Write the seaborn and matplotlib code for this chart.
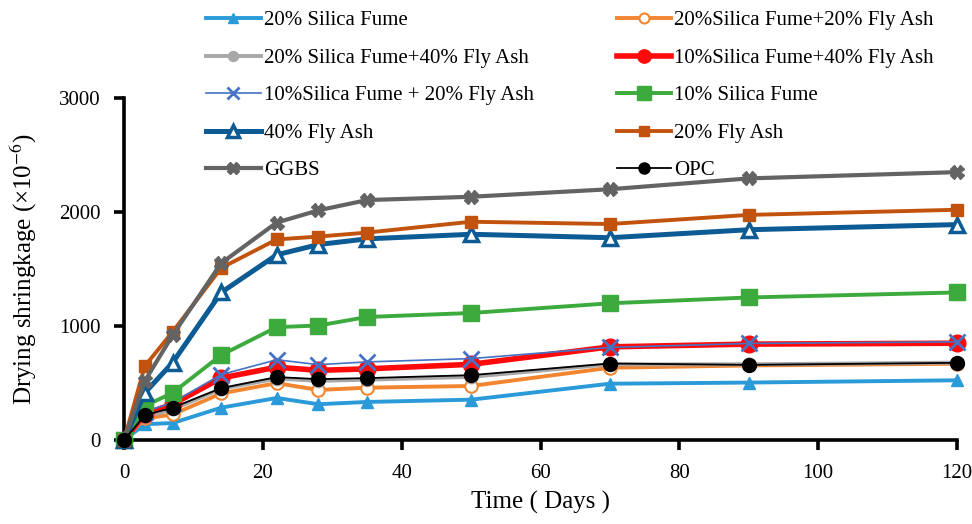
import pandas as pd
import seaborn as sns
import matplotlib.pyplot as plt

# curing age (days) and drying shrinkage readings (x10^-6)
days = [0, 3, 7, 14, 22, 28, 35, 50, 70, 90, 120]

sf20 = [0, 140, 150, 285, 370, 315, 335, 355, 495, 505, 525]
sf20_fa20 = [0, 190, 225, 410, 500, 440, 460, 475, 635, 655, 670]
sf20_fa40 = [0, 205, 270, 450, 540, 520, 530, 555, 665, 665, 680]
sf10_fa40 = [0, 230, 315, 545, 640, 612, 625, 665, 818, 842, 850]
sf10_fa20 = [0, 250, 330, 575, 705, 662, 686, 715, 813, 848, 862]
sf10 = [0, 300, 415, 746, 991, 1005, 1080, 1115, 1200, 1251, 1295]
fa40 = [0, 415, 680, 1295, 1625, 1715, 1765, 1805, 1775, 1845, 1890]
fa20 = [0, 650, 950, 1510, 1760, 1785, 1820, 1915, 1895, 1975, 2020]
ggbs = [0, 520, 920, 1552, 1908, 2015, 2105, 2134, 2200, 2295, 2350]
opc = [0, 219, 285, 456, 553, 535, 544, 570, 672, 660, 678]

mixes = ['20% Silica Fume', '20%Silica Fume+20% Fly Ash', '20% Silica Fume+40% Fly Ash',
         '10%Silica Fume+40% Fly Ash', '10%Silica Fume + 20% Fly Ash', '10% Silica Fume',
         '40% Fly Ash', '20% Fly Ash', 'GGBS', 'OPC']
values = [sf20, sf20_fa20, sf20_fa40, sf10_fa40, sf10_fa20, sf10, fa40, fa20, ggbs, opc]

df = pd.concat([pd.DataFrame({'day': days, 'shrinkage': v, 'mix': m})
                for m, v in zip(mixes, values)])

# per-series line styles (color, marker, linewidth, markersize, marker face, marker edge width)
styles = {
    '20% Silica Fume': ('#2a9ad8', '^', 2.8, 9, None, 1),
    '20%Silica Fume+20% Fly Ash': ('#f28530', 'o', 2.8, 9, 'white', 1.5),
    '20% Silica Fume+40% Fly Ash': ('#a8a8a8', 'o', 2.8, 9, None, 1),
    '10%Silica Fume+40% Fly Ash': ('#ff0a0a', 'o', 4.0, 12, None, 1),
    '10%Silica Fume + 20% Fly Ash': ('#4472c4', 'x', 1.2, 11, None, 2),
    '10% Silica Fume': ('#3daa3d', 's', 2.8, 12, None, 1),
    '40% Fly Ash': ('#0d5b94', '^', 3.6, 10, 'white', 2.5),
    '20% Fly Ash': ('#c2530e', 's', 2.8, 9, None, 1),
    'GGBS': ('#636363', 'X', 3.0, 10, None, 1),
    'OPC': ('#000000', 'o', 1.3, 10, None, 1),
}

serif = ['Liberation Serif', 'DejaVu Serif']
plt.rcParams['font.family'] = serif
plt.rcParams['mathtext.fontset'] = 'stix'

fig = plt.figure(figsize=(9.72, 5.24), dpi=100)
ax = fig.add_axes([0.1276, 0.160, 0.857, 0.653])

handles = {}
for m in mixes:
    c, mk, lw, ms, mfc, mew = styles[m]
    sns.lineplot(data=df[df['mix'] == m], x='day', y='shrinkage', ax=ax, color=c,
                 marker=mk, linewidth=lw, markersize=ms, label=m,
                 markerfacecolor=mfc if mfc else c, markeredgecolor=c,
                 markeredgewidth=mew, clip_on=False)
    handles[m] = ax.get_lines()[-1]

ax.get_legend().remove()

ax.set_xlim(0, 120)
ax.set_ylim(0, 3000)
ax.set_xticks(range(0, 121, 20))
ax.set_yticks([0, 1000, 2000, 3000])
for s in ['top', 'right']:
    ax.spines[s].set_visible(False)
for s in ['left', 'bottom']:
    ax.spines[s].set_linewidth(2.6)
    ax.spines[s].set_color('black')
    ax.spines[s].set_zorder(0.5)
ax.tick_params(axis='both', width=2.6, length=7, labelsize=15, direction='out', pad=10)

ax.set_xlabel('Time ( Days )', fontsize=18, labelpad=6)
ax.set_ylabel('Drying shringkage (×10$^{-6}$)', fontsize=18, labelpad=14)

# legend ordered column-wise so rows read like the original
order = ['20% Silica Fume', '20% Silica Fume+40% Fly Ash', '10%Silica Fume + 20% Fly Ash',
         '40% Fly Ash', 'GGBS',
         '20%Silica Fume+20% Fly Ash', '10%Silica Fume+40% Fly Ash', '10% Silica Fume',
         '20% Fly Ash', 'OPC']
fig.legend([handles[m] for m in order], order, ncol=2, loc='upper left',
           bbox_to_anchor=(0.193, 1.015), frameon=False, handlelength=2.6,
           handletextpad=0.15, columnspacing=4.0, labelspacing=0.86,
           prop={'family': serif, 'size': 15}, markerscale=0.8)

fig.savefig('out.png', dpi=100)
